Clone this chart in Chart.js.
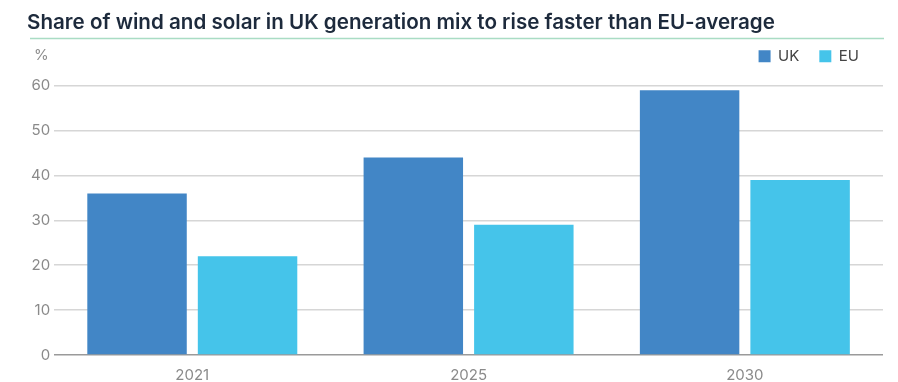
<!DOCTYPE html>
<html>
<head>
<meta charset="utf-8">
<script src="https://cdn.jsdelivr.net/npm/chart.js@4.4.1/dist/chart.umd.min.js"></script>
<style>
  html,body{margin:0;padding:0;background:#fff;}
  #wrap{width:898px;height:382px;position:relative;}
</style>
</head>
<body>
<div id="wrap"><canvas id="c"></canvas></div>
<script>
const titleText = "Share of wind and solar in UK generation mix to rise faster than EU-average";
const categories = ["2021", "2025", "2030"];
const seriesNames = ["UK", "EU"];
const ukValues = [36, 44, 59];
const euValues = [22, 29, 39];
const unitLabel = "%";

const FONT = "Inter, 'DejaVu Sans', sans-serif";

const decor = {
  id: 'decor',
  afterLayout(chart) {
    const lg = chart.legend;
    if (lg) {
      lg.left -= 4;
      lg.right -= 4;
      lg.top -= 8;
      lg.bottom -= 8;
    }
  },
  afterDraw(chart) {
    const ctx = chart.ctx;
    ctx.save();
    ctx.strokeStyle = '#a9dcc4';
    ctx.lineWidth = 1.5;
    ctx.beginPath();
    ctx.moveTo(30, 38.5);
    ctx.lineTo(884, 38.5);
    ctx.stroke();
    ctx.fillStyle = '#8c8c8c';
    ctx.font = "15px " + FONT;
    ctx.textBaseline = 'middle';
    ctx.textAlign = 'left';
    ctx.fillText(unitLabel, 34, 55);
    ctx.restore();
  }
};

const legendFit = {
  id: 'legendFit',
  afterInit(chart) {
    const lg = chart.legend;
    if (lg) {
      const origFit = lg.fit.bind(lg);
      lg.fit = function () { origFit(); this.height += 4; };
    }
  }
};

new Chart(document.getElementById('c'), {
  type: 'bar',
  data: {
    labels: categories,
    datasets: [
      { label: seriesNames[0], data: ukValues, backgroundColor: '#4286c6' },
      { label: seriesNames[1], data: euValues, backgroundColor: '#45c4ea' }
    ]
  },
  options: {
    responsive: true,
    maintainAspectRatio: false,
    animation: false,
    layout: { padding: { left: 27, right: 15, top: 0, bottom: 0 } },
    plugins: {
      title: {
        display: true,
        text: titleText,
        align: 'start',
        color: '#1d2a3c',
        font: { family: FONT, size: 20.6, weight: '600' },
        padding: { top: 10, bottom: 2, left: 3 }
      },
      legend: {
        position: 'top',
        align: 'end',
        labels: {
          boxWidth: 12,
          boxHeight: 12,
          color: '#444',
          font: { family: FONT, size: 15 },
          padding: 20
        }
      },
      tooltip: { enabled: false }
    },
    scales: {
      x: {
        grid: { display: false, drawTicks: false },
        border: { display: false },
        ticks: { color: '#8a8a8a', font: { family: FONT, size: 15 }, padding: 11 },
        afterFit(scale) { scale.height = 27; }
      },
      y: {
        min: 0, max: 60,
        border: { display: false },
        grid: {
          color: (c) => c.tick && c.tick.value === 0 ? '#9a9a9a' : '#d6d6d6',
          lineWidth: 1.5,
          drawTicks: false
        },
        ticks: { stepSize: 10, color: '#8a8a8a', font: { family: FONT, size: 15 }, padding: 4 }
      }
    }
  },
  plugins: [legendFit, decor]
});
</script>
</body>
</html>
